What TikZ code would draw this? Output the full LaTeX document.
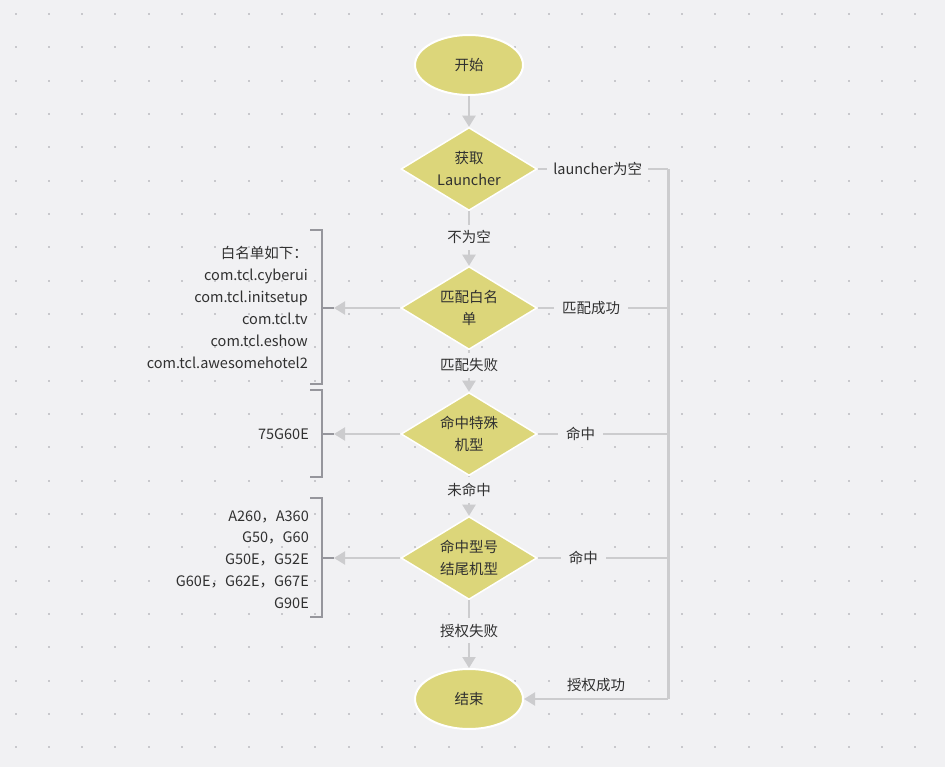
\documentclass[tikz,border=0pt]{standalone}
\usepackage{fontspec}
\setmainfont{Noto Sans CJK SC}
\usetikzlibrary{shapes.geometric,arrows.meta}
\definecolor{bg}{RGB}{241,241,243}
\definecolor{dotc}{RGB}{200,200,204}
\definecolor{fillc}{RGB}{220,214,122}
\definecolor{linec}{RGB}{204,204,206}
\definecolor{brkc}{RGB}{150,150,156}
\definecolor{txt}{RGB}{48,48,48}
\begin{document}
\begin{tikzpicture}[x=1pt,y=-1pt,
  every node/.style={font=\fontsize{14.5}{22}\selectfont, text=txt},
  term/.style={ellipse, fill=fillc, draw=white, line width=2pt, minimum width=108pt, minimum height=60pt, inner sep=0pt},
  decide/.style={diamond, fill=fillc, draw=white, line width=1.5pt, minimum width=136pt, minimum height=83pt, inner sep=0pt},
  conn/.style={draw=linec, line width=2pt, -{Triangle[width=13pt,length=11pt]}},
  plain/.style={draw=linec, line width=2pt},
  vline/.style={draw=linec, line width=3pt},
  lbl/.style={fill=bg, inner xsep=8pt, inner ysep=6pt},
  brk/.style={draw=brkc, line width=2pt},
  note/.style={align=right, anchor=east, inner sep=0pt}
]
\fill[bg] (0,0) rectangle (945,767);
\useasboundingbox (0,0) rectangle (945,767);
\foreach \i in {0,...,28} {
  \foreach \j in {0,...,22} {
    \fill[dotc] ({15.5+33.33*\i-1},{14+33.33*\j-1}) rectangle ++(2,2);
  }
}
% nodes
\node[term] (start) at (469,65) {开始};
\node[decide, label={[align=center, text=txt]center:获取\\Launcher}] (d1) at (469,169) {};
\node[decide, label={[align=center, text=txt]center:匹配白名\\单}] (d2) at (469,308) {};
\node[decide, label={[align=center, text=txt]center:命中特殊\\机型}] (d3) at (469,434) {};
\node[decide, label={[align=center, text=txt]center:命中型号\\结尾机型}] (d4) at (469,558) {};
\node[term] (end) at (469,699) {结束};
\coordinate (rc) at (668,169);
% left notes
\node[note] (n1) at (308,307.5) {白名单如下：\\com.tcl.cyberui\\com.tcl.initsetup\\com.tcl.tv\\com.tcl.eshow\\com.tcl.awesomehotel2};
\node[note] (n2) at (309,434) {75G60E};
\node[note, font=\fontsize{14.5}{21.75}\selectfont] (n3) at (309,559.5) {A260，A360\\G50，G60\\G50E，G52E\\G60E，G62E，G67E\\G90E};
% brackets
\draw[brk] (310,230) -- (322,230) -- (322,384) -- (310,384);
\draw[brk] (310,390) -- (322,390) -- (322,477) -- (310,477);
\draw[brk] (310,498) -- (322,498) -- (322,617) -- (310,617);
\coordinate (b1) at (334,308);
\coordinate (b2) at (334,434);
\coordinate (b3) at (334,558);
\draw[brk] (322,308) -- (b1);
\draw[brk] (322,434) -- (b2);
\draw[brk] (322,558) -- (b3);
% main flow
\draw[conn] (start) -- (d1);
\draw[conn] (d1) -- node[lbl, pos=0.48]{不为空} (d2);
\draw[conn] (d2) -- node[lbl, pos=0.36]{匹配失败} (d3);
\draw[conn] (d3) -- node[lbl, pos=0.35]{未命中} (d4);
\draw[conn] (d4) -- node[lbl, pos=0.45]{授权失败} (end);
% left arrows
\draw[conn] (d2.west) -- (b1);
\draw[conn] (d3.west) -- (b2);
\draw[conn] (d4.west) -- (b3);
% right side
\draw[vline] (rc) -- (rc |- end.east);
\draw[plain] (d1.east) -- node[lbl, pos=0.46, inner xsep=6pt]{launcher为空} (rc);
\draw[plain] (d2.east) -- node[lbl, pos=0.41]{匹配成功} (d2.east -| rc);
\draw[plain] (d3.east) -- node[lbl, pos=0.33]{命中} (d3.east -| rc);
\draw[plain] (d4.east) -- node[lbl, pos=0.35]{命中} (d4.east -| rc);
\draw[conn] (rc |- end.east) -- node[above=4pt, inner sep=2pt]{授权成功} (end.east);
\end{tikzpicture}
\end{document}
